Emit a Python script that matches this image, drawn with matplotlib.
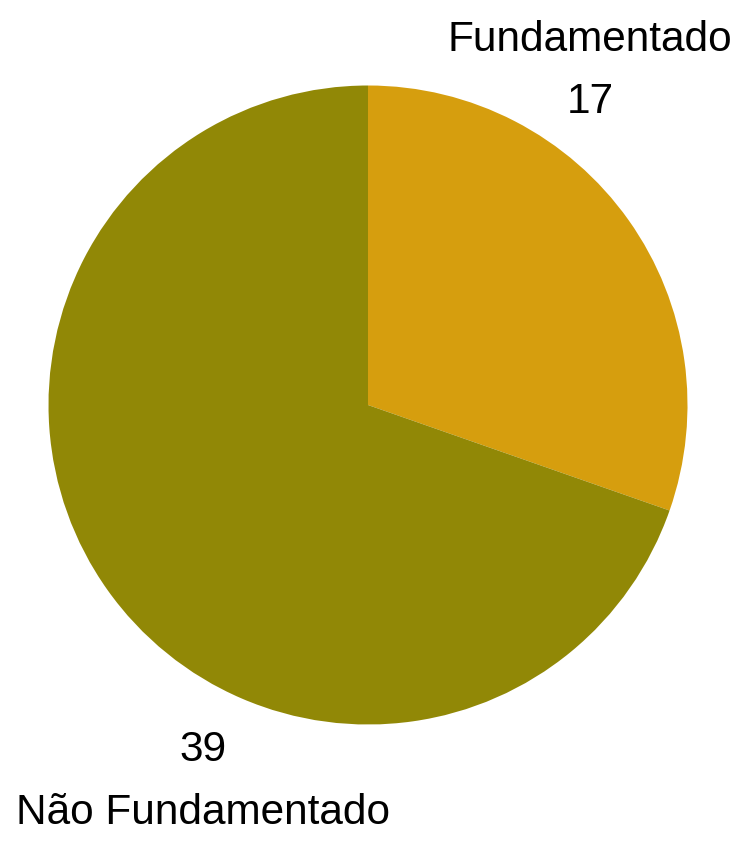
import matplotlib
matplotlib.use("Agg")
import matplotlib.pyplot as plt

labels = ["Fundamentado", "Não Fundamentado"]
values = [17, 39]
colors = ["#D69E0E", "#918806"]

fig = plt.figure(figsize=(7.49, 8.44), dpi=100)
ax = fig.add_axes([0, 0, 1, 1])
ax.set_xlim(-368, 381)
ax.set_ylim(-439, 405)
ax.set_aspect("equal")
ax.axis("off")

ax.pie(values, colors=colors, startangle=90, counterclock=False,
       radius=319.5, center=(0, 0), frame=True,
       wedgeprops=dict(linewidth=0))
ax.set_xlim(-368, 381)
ax.set_ylim(-439, 405)
ax.axis("off")

font = dict(family=["Liberation Sans", "DejaVu Sans"], fontsize=30.5, color="#000000")
ax.text(222, 365, labels[0], ha="center", va="center", **font)
ax.text(222, 303, str(values[0]), ha="center", va="center", **font)
ax.text(-165, -345, str(values[1]), ha="center", va="center", **font)
ax.text(-165, -408, labels[1], ha="center", va="center", **font)

fig.savefig("out.png", dpi=100)
